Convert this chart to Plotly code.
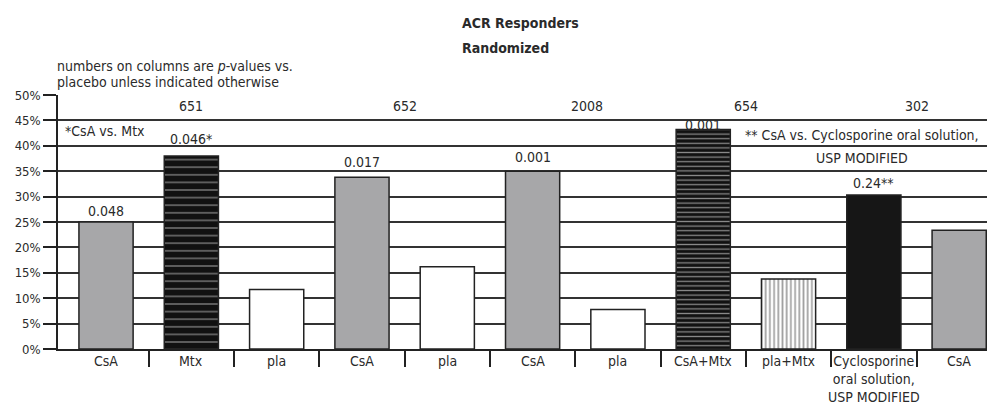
import plotly.graph_objects as go

categories = ["CsA", "Mtx", "pla", "CsA", "pla", "CsA", "pla", "CsA+Mtx", "pla+Mtx",
              "Cyclosporine<br>oral solution,<br>USP MODIFIED", "CsA"]
values = [25.0, 38.0, 11.7, 33.8, 16.2, 35.0, 7.8, 43.2, 13.8, 30.3, 23.4]
pvalues = ["0.048", "0.046*", "", "0.017", "", "0.001", "", "0.001", "", "0.24**", ""]
studies = ["651", "652", "2008", "654", "302"]
study_groups = [[0, 1, 2], [3, 4], [5, 6], [7, 8], [9, 10]]
yticks = [0, 5, 10, 15, 20, 25, 30, 35, 40, 45, 50]
ytick_labels = [f"{v}%" for v in yticks]

# styling per bar
GRAY = "#a7a7a9"
fills = [GRAY, "#111111", "white", GRAY, "white", GRAY, "white", "#111111", "white", "#161616", GRAY]
shapes = ["", "-", "", "", "", "", "", "-", "|", "", ""]
pat_fg = ["black", "#d6d6d6", "black", "black", "black", "black", "black", "white", "#111111", "black", "black"]
pat_size = [8, 7.6, 8, 8, 8, 8, 8, 4.6, 4.2, 8, 8]
pat_sol = [0.2, 0.16, 0.2, 0.2, 0.2, 0.2, 0.2, 0.28, 0.42, 0.2, 0.2]
label_shift = [1, 7, 0, 5, 0, 4, 0, -5, 0, 2, 0]

FONT = "Liberation Sans Narrow, Arial Narrow, DejaVu Sans Condensed, sans-serif"
TXT = "#2a2a2a"

xs = list(range(len(categories)))

fig = go.Figure()
fig.add_trace(go.Bar(
    x=xs, y=values, width=0.635,
    marker=dict(
        color=fills,
        line=dict(color="#222222", width=1.5),
        pattern=dict(shape=shapes, fgcolor=pat_fg, size=pat_size,
                     solidity=pat_sol, fillmode="overlay"),
    ),
    hoverinfo="skip",
))

ann = []
# p-value labels
for i, (v, p) in enumerate(zip(values, pvalues)):
    if p:
        ann.append(dict(x=i, y=v, text=p, showarrow=False, yanchor="bottom",
                        yshift=label_shift[i], font=dict(size=14, color=TXT, family=FONT)))
# category labels
for i, c in enumerate(categories):
    ann.append(dict(x=i, y=0, text=c, showarrow=False, yanchor="top", yshift=-2,
                    font=dict(size=14, color=TXT, family=FONT)))
# study numbers
for s, g in zip(studies, study_groups):
    xpos = sum(g) / len(g)
    if s == "2008":
        xpos += 0.14
    ann.append(dict(x=xpos, y=47.8, text=s, showarrow=False,
                    font=dict(size=14, color=TXT, family=FONT)))
# notes
ann.append(dict(x=-0.5, y=42.9, text="*CsA vs. Mtx", showarrow=False, xanchor="left",
                font=dict(size=14, color=TXT, family=FONT)))
ann.append(dict(x=8.86, y=42.1, text="** CsA vs. Cyclosporine oral solution,", showarrow=False,
                font=dict(size=14, color=TXT, family=FONT)))
ann.append(dict(x=8.86, y=37.6, text="USP MODIFIED", showarrow=False,
                font=dict(size=14, color=TXT, family=FONT)))
ann.append(dict(x=0, xref="paper", y=1.116, yref="paper", xanchor="left", yanchor="middle",
                text="numbers on columns are <i>p</i>-values vs.", showarrow=False, xshift=-3,
                font=dict(size=14, color=TXT, family=FONT)))
ann.append(dict(x=0, xref="paper", y=1.05, yref="paper", xanchor="left", yanchor="middle",
                text="placebo unless indicated otherwise", showarrow=False, xshift=-3,
                font=dict(size=14, color=TXT, family=FONT)))
# title
ann.append(dict(x=0.429, xref="paper", y=1.283, yref="paper", xanchor="left", yanchor="middle",
                text="<b>ACR Responders</b>", showarrow=False,
                font=dict(size=14, color=TXT, family=FONT)))
ann.append(dict(x=0.429, xref="paper", y=1.185, yref="paper", xanchor="left", yanchor="middle",
                text="<b>Randomized</b>", showarrow=False,
                font=dict(size=14, color=TXT, family=FONT)))

# the page adds an 8px body margin, so the figure is shifted by that amount
fig.update_layout(
    width=987, height=396,
    margin=dict(l=50, r=0, t=87, b=55),
    paper_bgcolor="white", plot_bgcolor="white",
    showlegend=False,
    annotations=ann,
    font=dict(family=FONT, size=14, color=TXT),
    xaxis=dict(
        range=[-0.563, 10.42],
        tickmode="array", tickvals=[i + 0.5 for i in xs[:-1]], ticktext=[""] * (len(xs) - 1),
        ticks="outside", ticklen=16, tickwidth=1.5, tickcolor="#222222",
        showgrid=False, zeroline=False,
        showline=True, linecolor="#222222", linewidth=1.5,
    ),
    yaxis=dict(
        range=[0, 50],
        tickmode="array", tickvals=yticks, ticktext=ytick_labels,
        ticks="outside", ticklen=13, tickwidth=1.5, tickcolor="#222222",
        showgrid=True, gridcolor="#333333", gridwidth=1.5,
        zeroline=False, automargin=False,
        showline=True, linecolor="#222222", linewidth=1.5,
        tickfont=dict(size=13, color=TXT, family=FONT),
    ),
)

fig.write_html("out.html")
